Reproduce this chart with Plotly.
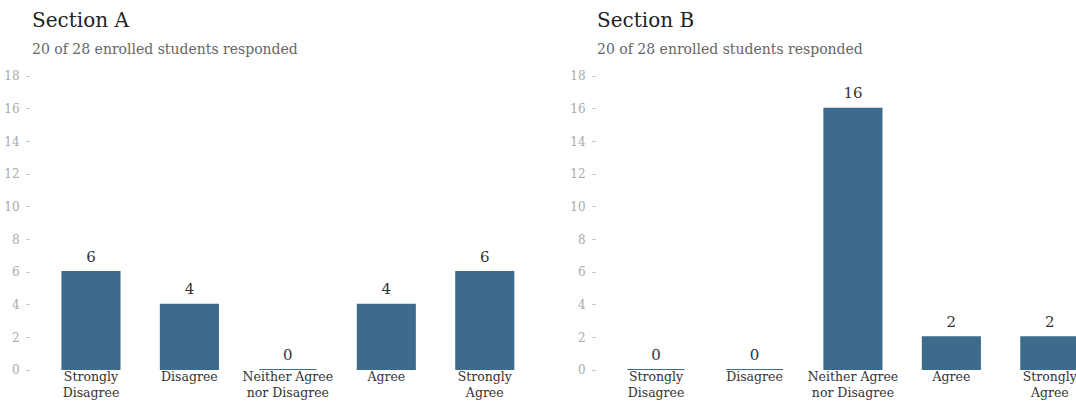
import plotly.graph_objects as go
from plotly.subplots import make_subplots

categories = ["Strongly<br>Disagree", "Disagree", "Neither Agree<br>nor Disagree", "Agree", "Strongly<br>Agree"]
section_a = [6, 4, 0, 4, 6]
section_b = [0, 0, 16, 2, 2]
titles = ["Section A", "Section B"]
subtitles = ["20 of 28 enrolled students responded", "20 of 28 enrolled students responded"]
y_ticks = [0, 2, 4, 6, 8, 10, 12, 14, 16, 18]

BAR = "#3e6b8c"
FONT = "DejaVu Serif"

fig = make_subplots(rows=1, cols=2, horizontal_spacing=0.06)
for i, vals in enumerate([section_a, section_b]):
    xs = list(range(len(categories)))
    fig.add_trace(go.Bar(
        x=xs, y=vals,
        marker=dict(color=BAR, line=dict(color=BAR, width=2)),
        width=0.58, showlegend=False, hoverinfo="skip",
    ), row=1, col=i + 1)
    fig.add_trace(go.Scatter(
        x=xs, y=vals, mode="markers+text",
        marker=dict(size=9, color="rgba(0,0,0,0)"),
        text=[str(v) for v in vals], textposition="top center",
        textfont=dict(family=FONT, size=15, color="#333"),
        cliponaxis=False, showlegend=False, hoverinfo="skip",
    ), row=1, col=i + 1)

W, H = 1076, 402
ml, mr, mt, mb = 31, 0, 76, 32
pw = W - ml - mr
ph = H - mt - mb

doms = [[0, 503 / pw], [566 / pw, 1.0]]
ranges = [[-0.609, 4.5], [-0.6, 4.266]]
for i in range(2):
    xa = "xaxis" if i == 0 else "xaxis2"
    ya = "yaxis" if i == 0 else "yaxis2"
    fig.layout[xa].update(
        domain=doms[i], range=ranges[i], tickmode="array",
        tickvals=list(range(len(categories))), ticktext=categories,
        showgrid=False, zeroline=False, showline=False, ticks="",
        automargin=False, ticklabeloverflow="allow", ticklabelstandoff=-3,
        tickfont=dict(family=FONT, size=12.5, color="#333"),
    )
    fig.layout[ya].update(
        range=[0, 18], tickmode="array", tickvals=y_ticks,
        showgrid=False, zeroline=False, showline=False, automargin=False,
        ticks="outside", ticklen=4, tickcolor="#c8c8c8", tickwidth=1,
        ticklabelstandoff=4,
        tickfont=dict(family=FONT, size=12, color="#aaaaaa"),
    )

annotations = []
title_x = [(30 - ml) / pw, (595 - ml) / pw]
for i in range(2):
    annotations.append(dict(
        text=titles[i], xref="paper", yref="paper", x=title_x[i], y=1 + (76 - 20) / ph,
        xanchor="left", yanchor="middle", showarrow=False,
        font=dict(family=FONT, size=20, color="#222"),
    ))
    annotations.append(dict(
        text=subtitles[i], xref="paper", yref="paper", x=title_x[i], y=1 + (76 - 49) / ph,
        xanchor="left", yanchor="middle", showarrow=False,
        font=dict(family=FONT, size=14, color="#666"),
    ))

fig.update_layout(
    width=W, height=H, margin=dict(l=ml, r=mr, t=mt, b=mb),
    plot_bgcolor="white", paper_bgcolor="white",
    annotations=annotations, bargap=0.42,
)

fig.write_html("out.html")
